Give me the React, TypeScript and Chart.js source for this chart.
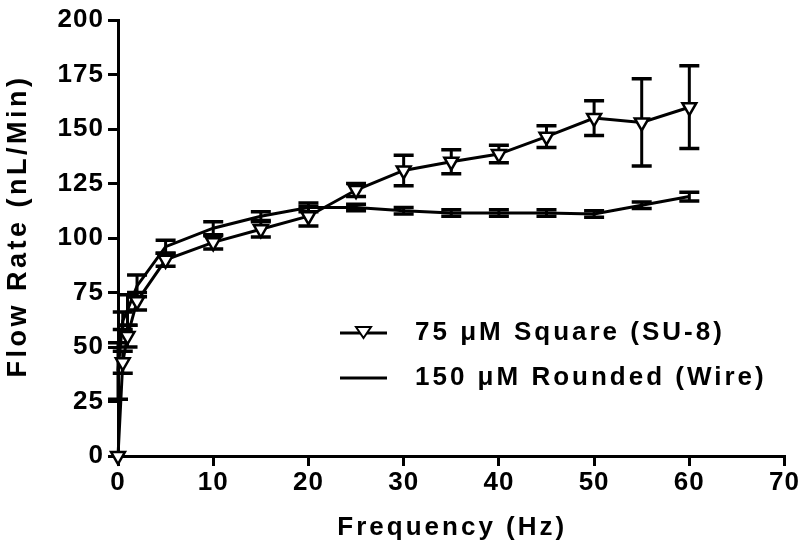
import React, { useEffect, useRef } from 'react';
import { Chart, registerables } from 'chart.js';

Chart.register(...registerables);

// ---- data ----
const freqSquare = [0, 0.5, 1, 2, 5, 10, 15, 20, 25, 30, 35, 40, 45, 50, 55, 60];
const flowSquare = [0, 43, 55, 71, 90, 98, 104, 110, 122, 131, 135, 138.5, 146.5, 155, 153, 160];
const errSquare = [0, 5, 5, 4, 3, 3, 3.5, 4.5, 3, 7, 5.5, 4, 5, 8, 20, 19];

const freqWire = [0, 0.5, 1, 2, 5, 10, 15, 20, 25, 30, 35, 40, 45, 50, 55, 60];
const flowWire = [39, 62, 67, 78, 96, 104.5, 110, 114, 114, 112.5, 111.5, 111.5, 111.5, 111, 115, 119];
const errWire = [13, 4, 7, 5, 3, 3, 2, 2, 1.5, 1.5, 1.5, 1.5, 1.5, 1.5, 1.5, 2];

const seriesLabels = ['75 \u03BCM Square (SU-8)', '150 \u03BCM Rounded (Wire)'];
const xTitle = 'Frequency (Hz)';
const yTitle = 'Flow Rate (nL/Min)';
const xMin = 0, xMax = 70, xStep = 10;
const yMin = 0, yMax = 200, yStep = 25;

const FONT = "'Liberation Sans', Arial, Helvetica, sans-serif";
const errorsByDataset = [errSquare, errWire];

const spacingPlugin = {
  id: 'spacing',
  beforeDraw(chart: any) {
    chart.ctx.letterSpacing = '1px';
  },
};

const errorBarPlugin = {
  id: 'errorBars',
  beforeDatasetsDraw(chart: any) {
    const ctx = chart.ctx;
    const ys = chart.scales.y;
    ctx.save();
    ctx.strokeStyle = '#000';
    chart.data.datasets.forEach((ds: any, di: number) => {
      const meta = chart.getDatasetMeta(di);
      const errs = errorsByDataset[di];
      meta.data.forEach((pt: any, i: number) => {
        const e = errs[i];
        if (!e) return;
        const v = ds.data[i].y;
        const top = ys.getPixelForValue(v + e);
        const bot = ys.getPixelForValue(v - e);
        const x = pt.x;
        const hw = 10;
        ctx.lineWidth = 3;
        ctx.beginPath();
        ctx.moveTo(x, top);
        ctx.lineTo(x, bot);
        ctx.stroke();
        ctx.lineWidth = 3.5;
        ctx.beginPath();
        ctx.moveTo(x - hw, top);
        ctx.lineTo(x + hw, top);
        ctx.moveTo(x - hw, bot);
        ctx.lineTo(x + hw, bot);
        ctx.stroke();
      });
    });
    ctx.restore();
  },
};

const decorPlugin = {
  id: 'decor',
  afterDraw(chart: any) {
    const ctx = chart.ctx;
    const area = chart.chartArea;
    ctx.save();
    ctx.fillStyle = '#000';
    ctx.strokeStyle = '#000';
    // axis titles
    ctx.letterSpacing = '3px';
    ctx.font = `bold 26px ${FONT}`;
    ctx.textAlign = 'center';
    ctx.textBaseline = 'middle';
    ctx.fillText(xTitle, (area.left + area.right) / 2 + 1, 528);
    ctx.save();
    ctx.letterSpacing = '3.5px';
    ctx.font = `bold 27px ${FONT}`;
    ctx.translate(19, 226);
    ctx.rotate(-Math.PI / 2);
    ctx.fillText(yTitle, 0, 0);
    ctx.restore();

    // legend
    ctx.letterSpacing = '3px';
    ctx.font = `bold 26px ${FONT}`;
    ctx.textAlign = 'left';
    const rows = [333, 378];
    rows.forEach((ry, i) => {
      ctx.lineWidth = 3;
      ctx.beginPath();
      ctx.moveTo(340, ry);
      ctx.lineTo(387, ry);
      ctx.stroke();
      if (i === 0) {
        ctx.lineWidth = 2;
        ctx.fillStyle = '#fff';
        ctx.beginPath();
        ctx.moveTo(356, 327);
        ctx.lineTo(371, 327);
        ctx.lineTo(363.5, 338);
        ctx.closePath();
        ctx.fill();
        ctx.stroke();
        ctx.fillStyle = '#000';
      }
      ctx.fillText(seriesLabels[i], 415, ry);
    });
    ctx.restore();
  },
};

export default function App() {
  const canvasRef = useRef<HTMLCanvasElement | null>(null);

  useEffect(() => {
    if (!canvasRef.current) return;
    const tickFont = { family: FONT, size: 26, weight: 'bold' as const };
    const chart = new Chart(canvasRef.current, {
      type: 'line',
      data: {
        datasets: [
          {
            label: seriesLabels[0],
            data: freqSquare.map((x, i) => ({ x, y: flowSquare[i] })),
            borderColor: '#000',
            borderWidth: 3,
            pointStyle: 'triangle',
            rotation: 180,
            pointRadius: 8,
            pointBackgroundColor: '#fff',
            pointBorderColor: '#000',
            pointBorderWidth: 2.5,
            tension: 0,
            fill: false,
            clip: false,
          },
          {
            label: seriesLabels[1],
            data: freqWire.map((x, i) => ({ x, y: flowWire[i] })),
            borderColor: '#000',
            borderWidth: 3,
            pointRadius: 0,
            tension: 0,
            fill: false,
            clip: false,
          },
        ],
      },
      options: {
        animation: false,
        responsive: true,
        maintainAspectRatio: false,
        layout: { padding: { left: 0, top: 20, right: 15, bottom: 0 } },
        plugins: { legend: { display: false }, tooltip: { enabled: false } },
        scales: {
          x: {
            type: 'linear',
            min: xMin,
            max: xMax,
            ticks: { stepSize: xStep, color: '#000', font: tickFont, padding: 1, maxRotation: 0 },
            grid: { drawOnChartArea: false, drawTicks: true, tickLength: 10, color: '#000', lineWidth: 3 },
            border: { display: true, color: '#000', width: 3 },
            afterFit: (s: any) => { s.height = 103; },
          },
          y: {
            type: 'linear',
            min: yMin,
            max: yMax,
            ticks: { stepSize: yStep, color: '#000', font: tickFont, padding: 4 },
            grid: { drawOnChartArea: false, drawTicks: true, tickLength: 10, color: '#000', lineWidth: 3 },
            border: { display: true, color: '#000', width: 3 },
            afterFit: (s: any) => { s.width = 118; },
          },
        },
      },
      plugins: [spacingPlugin, errorBarPlugin, decorPlugin],
    });
    return () => chart.destroy();
  }, []);

  return (
    <div style={{ position: 'absolute', left: 0, top: 0, width: 800, height: 559, background: '#fff' }}>
      <canvas ref={canvasRef} />
    </div>
  );
}
